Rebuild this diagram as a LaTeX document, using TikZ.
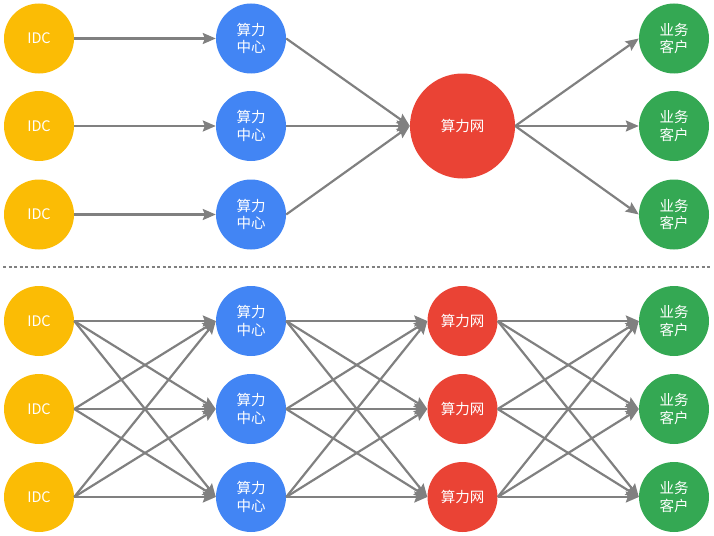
\documentclass[tikz,border=0pt]{standalone}
\usepackage{fontspec}
\setmainfont{Noto Sans CJK SC}
\usetikzlibrary{arrows.meta}
\definecolor{cidc}{HTML}{FBBC05}
\definecolor{cblue}{HTML}{4285F4}
\definecolor{cred}{HTML}{EA4335}
\definecolor{cgreen}{HTML}{34A853}
\definecolor{cline}{HTML}{808080}
\begin{document}
\begin{tikzpicture}[x=1pt,y=-1pt,
  nd/.style={circle,minimum size=70pt,inner sep=0pt,text=white,align=center,
    font=\fontsize{14.5}{17.5}\selectfont},
  idc/.style={nd,fill=cidc},
  ctr/.style={nd,fill=cblue},
  net/.style={nd,fill=cred},
  bignet/.style={nd,fill=cred,minimum size=105pt},
  cust/.style={nd,fill=cgreen},
  link/.style={draw=cline,line width=2.2pt,-{Stealth[length=13pt,width=11pt,inset=2pt]}},
  sep/.style={draw=cline,line width=2pt,dash pattern=on 3pt off 2.5pt}]
\useasboundingbox (0,0) rectangle (714,535);
% top section
\foreach \i/\y in {1/38.5,2/126,3/214.5}{
  \node[idc] (ta\i) at (39,\y) {IDC};
  \node[ctr] (tb\i) at (251,\y) {算力\\中心};
  \node[cust] (td\i) at (674,\y) {业务\\客户};
}
\node[bignet] (tc) at (462.5,126) {算力网};
\foreach \i in {1,2,3}{
  \draw[link] (ta\i.east) -- (tb\i.west);
  \draw[link] (tb\i.east) -- (tc.west);
  \draw[link] (tc.east) -- (td\i.west);
}
% separator
\coordinate (s1) at (3,267);
\coordinate (s2) at (712,267);
\draw[sep] (s1) -- (s2);
% bottom section
\foreach \i/\y in {1/321,2/409,3/497}{
  \node[idc] (ba\i) at (39,\y) {IDC};
  \node[ctr] (bb\i) at (251,\y) {算力\\中心};
  \node[net] (bc\i) at (462.5,\y) {算力网};
  \node[cust] (bd\i) at (674,\y) {业务\\客户};
}
\foreach \i in {1,2,3}{
  \foreach \j in {1,2,3}{
    \draw[link] (ba\i.east) -- (bb\j.west);
    \draw[link] (bb\i.east) -- (bc\j.west);
    \draw[link] (bc\i.east) -- (bd\j.west);
  }
}
\end{tikzpicture}
\end{document}
